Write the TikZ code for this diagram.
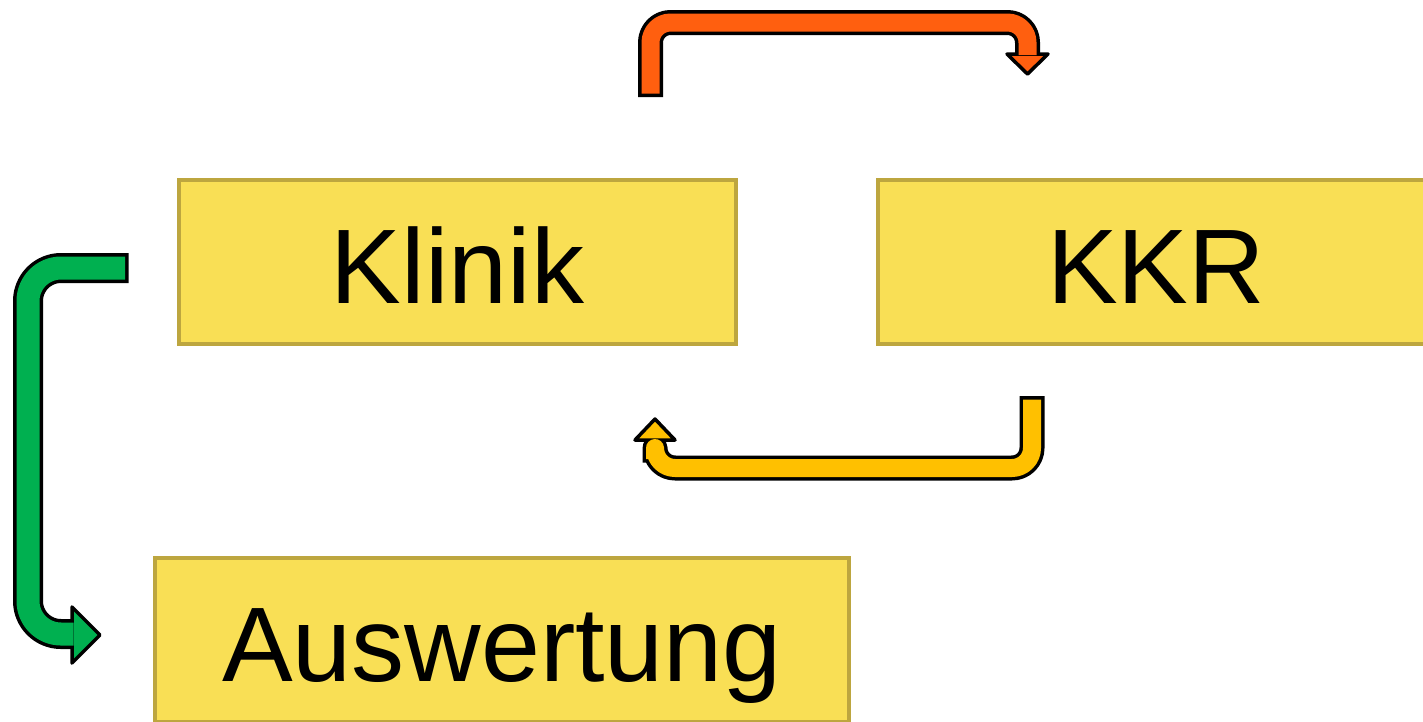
\documentclass[tikz,border=0pt]{standalone}
\usepackage{fontspec}
\setmainfont{Liberation Sans}
\definecolor{boxfill}{HTML}{F9DF55}
\definecolor{boxline}{HTML}{BDA63F}
\definecolor{arrorange}{HTML}{FF5F0F}
\definecolor{arryellow}{HTML}{FFC000}
\definecolor{arrgreen}{HTML}{00B050}
\tikzset{
  stepbox/.style={draw=boxline, fill=boxfill, line width=4pt, inner sep=0pt,
    minimum height=164pt, text height=82pt, text depth=0pt,
    font=\fontsize{106}{120}\selectfont},
  shaftout/.style={draw=black, line width=#1, line cap=rect, line join=round},
  shaftin/.style={line width=#1, line cap=rect, line join=round},
  headshape/.style={draw=black, line width=3.5pt, line join=round},
}
\begin{document}
\begin{tikzpicture}[x=1pt,y=-1pt]
\useasboundingbox (0,0) rectangle (1423,721);
\clip (0,0) rectangle (1423,721);
\fill[white] (0,0) rectangle (1423,721);

% boxes
\node[stepbox, minimum width=557pt] (klinik) at (457.5,262) {Klinik};
\node[stepbox, minimum width=557pt] (kkr) at (1156,262) {KKR};
\node[stepbox, minimum width=694pt] (ausw) at (502,640) {Auswertung};

% orange arrow Klinik -> KKR
\coordinate (o1) at (650.5,84.5);
\coordinate (o2) at (1027.5,46);
\draw[shaftout=25pt, rounded corners=20pt] (o1) |- (1027.5,22.5) -- (o2);
\filldraw[headshape, fill=arrorange] (1007,54) -- (1048,54) -- (1027.5,74) -- cycle;
\draw[shaftin=18pt, arrorange, rounded corners=20pt] (o1) |- (1027.5,22.5) -- (o2);

% yellow arrow KKR -> Klinik
\coordinate (y1) at (1032,408.5);
\coordinate (y2) at (655,450);
\draw[shaftout=25pt, rounded corners=20pt] (y1) |- (655,468) -- (y2);
\filldraw[headshape, fill=arryellow] (635,440) -- (675,440) -- (655,419) -- cycle;
\draw[shaftin=18pt, arryellow, rounded corners=20pt] (y1) |- (655,468) -- (y2);

% green arrow Klinik -> Auswertung
\coordinate (g1) at (113.5,268);
\coordinate (g2) at (62,634);
\draw[shaftout=30pt, rounded corners=33pt] (g1) -| (28,634) -- (g2);
\filldraw[headshape, fill=arrgreen] (72,607) -- (72,663) -- (100,635) -- cycle;
\draw[shaftin=23pt, arrgreen, rounded corners=33pt] (g1) -| (28,634) -- (g2);
\end{tikzpicture}
\end{document}
